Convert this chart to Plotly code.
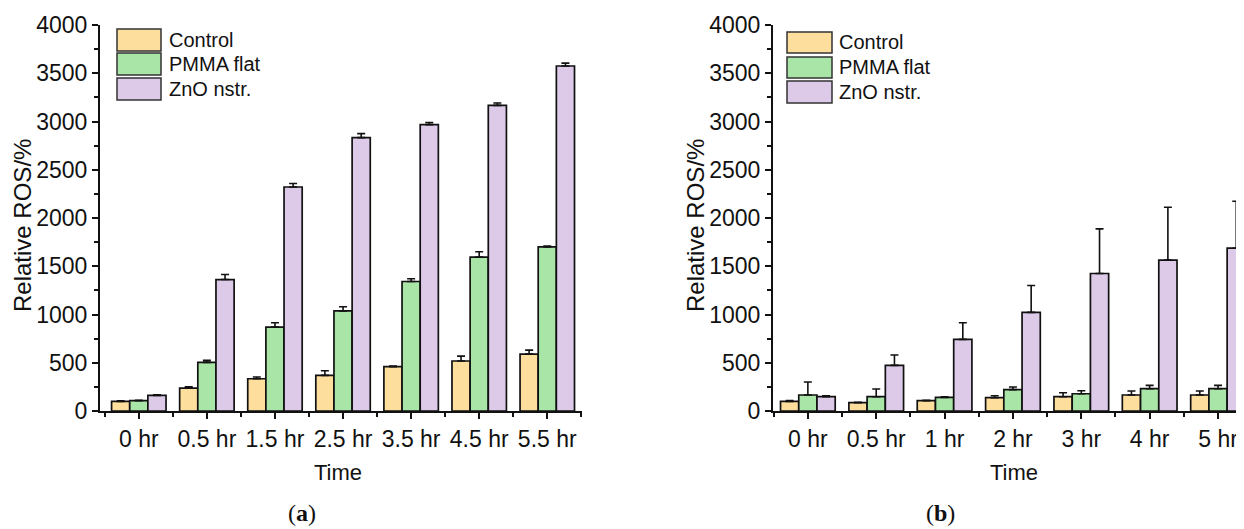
import plotly.graph_objects as go

# ---------------- data ----------------
series_names = ["Control", "PMMA flat", "ZnO nstr."]
series_colors = ["#FEDE9C", "#A9E5A7", "#DCCAE8"]

cats_a = ["0 hr", "0.5 hr", "1.5 hr", "2.5 hr", "3.5 hr", "4.5 hr", "5.5 hr"]
control_a = [100, 238, 334, 369, 459, 518, 590]
control_a_err = [6, 13, 18, 48, 6, 51, 41]
pmma_a = [107, 504, 869, 1038, 1342, 1595, 1700]
pmma_a_err = [5, 21, 45, 42, 28, 55, 10]
zno_a = [162, 1362, 2321, 2833, 2967, 3167, 3575]
zno_a_err = [5, 53, 36, 41, 21, 24, 30]

cats_b = ["0 hr", "0.5 hr", "1 hr", "2 hr", "3 hr", "4 hr", "5 hr"]
control_b = [100, 86, 107, 138, 148, 166, 166]
control_b_err = [7, 4, 3, 20, 41, 41, 41]
pmma_b = [166, 148, 141, 221, 179, 231, 231]
pmma_b_err = [134, 80, 7, 27, 31, 35, 35]
zno_b = [148, 473, 742, 1022, 1425, 1563, 1687]
zno_b_err = [10, 107, 172, 279, 462, 548, 487]

y_ticks = [0, 500, 1000, 1500, 2000, 2500, 3000, 3500, 4000]

# page body adds an 8px offset; figure fills the rest of the window
OFF = 8
W, H = 1244 - OFF, 529 - OFF
FONT = "Liberation Sans, Arial, sans-serif"

fig = go.Figure()

panels = [
    (cats_a, [control_a, pmma_a, zno_a], [control_a_err, pmma_a_err, zno_a_err], "x", "y"),
    (cats_b, [control_b, pmma_b, zno_b], [control_b_err, pmma_b_err, zno_b_err], "x2", "y2"),
]

for cats, vals, errs, xa, ya in panels:
    xpos = list(range(len(cats)))
    for name, color, v, e in zip(series_names, series_colors, vals, errs):
        fig.add_trace(go.Bar(
            x=xpos, y=v, name=name, xaxis=xa, yaxis=ya,
            offsetgroup=name, showlegend=False,
            marker=dict(color=color, line=dict(color="#111111", width=1.7)),
            error_y=dict(type="data", symmetric=False, array=e,
                         arrayminus=[0] * len(e), color="#111111",
                         thickness=1.6, width=4),
        ))

def px_x(p):
    return (p - OFF) / W

def px_y(p):
    return 1 - (p - OFF) / H

y_dom = [px_y(411), px_y(25)]

common_x = dict(
    showline=True, linecolor="#111111", linewidth=2,
    ticks="outside", ticklen=6, tickwidth=2, tickcolor="#111111",
    tickfont=dict(family=FONT, size=23, color="#111111"),
    showgrid=False, zeroline=False, tickmode="array", automargin=False,
    minor=dict(ticks="outside", ticklen=4, tickwidth=1.5, tickcolor="#111111",
               tickmode="linear", tick0=0.5, dtick=1, showgrid=False),
)
common_y = dict(
    showline=True, linecolor="#111111", linewidth=2,
    ticks="outside", ticklen=6, tickwidth=2, tickcolor="#111111",
    tickfont=dict(family=FONT, size=23, color="#111111"),
    showgrid=False, zeroline=False, range=[0, 4000], automargin=False,
    tickmode="array", tickvals=y_ticks, ticktext=[str(t) for t in y_ticks],
    minor=dict(ticks="outside", ticklen=4, tickwidth=1.5, tickcolor="#111111",
               tickmode="linear", tick0=250, dtick=500, showgrid=False),
    domain=y_dom,
)

xa_cfg = dict(common_x)
xa_cfg.update(domain=[px_x(100), px_x(582)], range=[-0.57, 6.51],
              tickvals=list(range(len(cats_a))), ticktext=cats_a, anchor="y")
xb_cfg = dict(common_x)
xb_cfg.update(domain=[px_x(773), 1.0], range=[-0.51, 6.38],
              tickvals=list(range(len(cats_b))), ticktext=cats_b, anchor="y2")
ya_cfg = dict(common_y)
ya_cfg.update(anchor="x")
yb_cfg = dict(common_y)
yb_cfg.update(anchor="x2")

fig.update_layout(
    width=W, height=H, autosize=False,
    margin=dict(l=0, r=0, t=0, b=0, pad=0, autoexpand=False),
    paper_bgcolor="white", plot_bgcolor="white",
    barmode="group", bargap=0.2, bargroupgap=0,
    xaxis=xa_cfg, yaxis=ya_cfg, xaxis2=xb_cfg, yaxis2=yb_cfg,
    showlegend=False,
)

shapes = []
annotations = []

# legends (custom boxes)
legend_specs = [
    (117, 161, [(29, 51), (53, 75), (78, 100)], 167),
    (787, 832, [(32, 53), (57, 78), (81, 103)], 837),
]
for x0, x1, rows, tx in legend_specs:
    for (ya0, ya1), name, color in zip(rows, series_names, series_colors):
        shapes.append(dict(type="rect", xref="paper", yref="paper",
                           x0=px_x(x0), x1=px_x(x1), y0=px_y(ya1), y1=px_y(ya0),
                           fillcolor=color, line=dict(color="#333333", width=1.5)))
        annotations.append(dict(text=name, xref="paper", yref="paper",
                                x=px_x(tx), y=px_y((ya0 + ya1) / 2),
                                xanchor="left", yanchor="middle", showarrow=False,
                                font=dict(family=FONT, size=20, color="#111111")))

# axis titles
for cx in (22, 695):
    annotations.append(dict(text="Relative ROS/%", xref="paper", yref="paper",
                            x=px_x(cx), y=px_y(226), textangle=-90,
                            xanchor="center", yanchor="middle", showarrow=False,
                            font=dict(family=FONT, size=24, color="#111111")))
for cx in (338, 1014):
    annotations.append(dict(text="Time", xref="paper", yref="paper",
                            x=px_x(cx), y=px_y(472),
                            xanchor="center", yanchor="middle", showarrow=False,
                            font=dict(family=FONT, size=22, color="#111111")))

# panel labels
for lab, cx in (("a", 302), ("b", 940)):
    annotations.append(dict(text="(<b>%s</b>)" % lab, xref="paper", yref="paper",
                            x=px_x(cx), y=px_y(513),
                            xanchor="center", yanchor="middle", showarrow=False,
                            font=dict(family="Liberation Serif, DejaVu Serif, serif",
                                      size=24, color="#111111")))

fig.update_layout(shapes=shapes, annotations=annotations)

fig.write_html("out.html")
